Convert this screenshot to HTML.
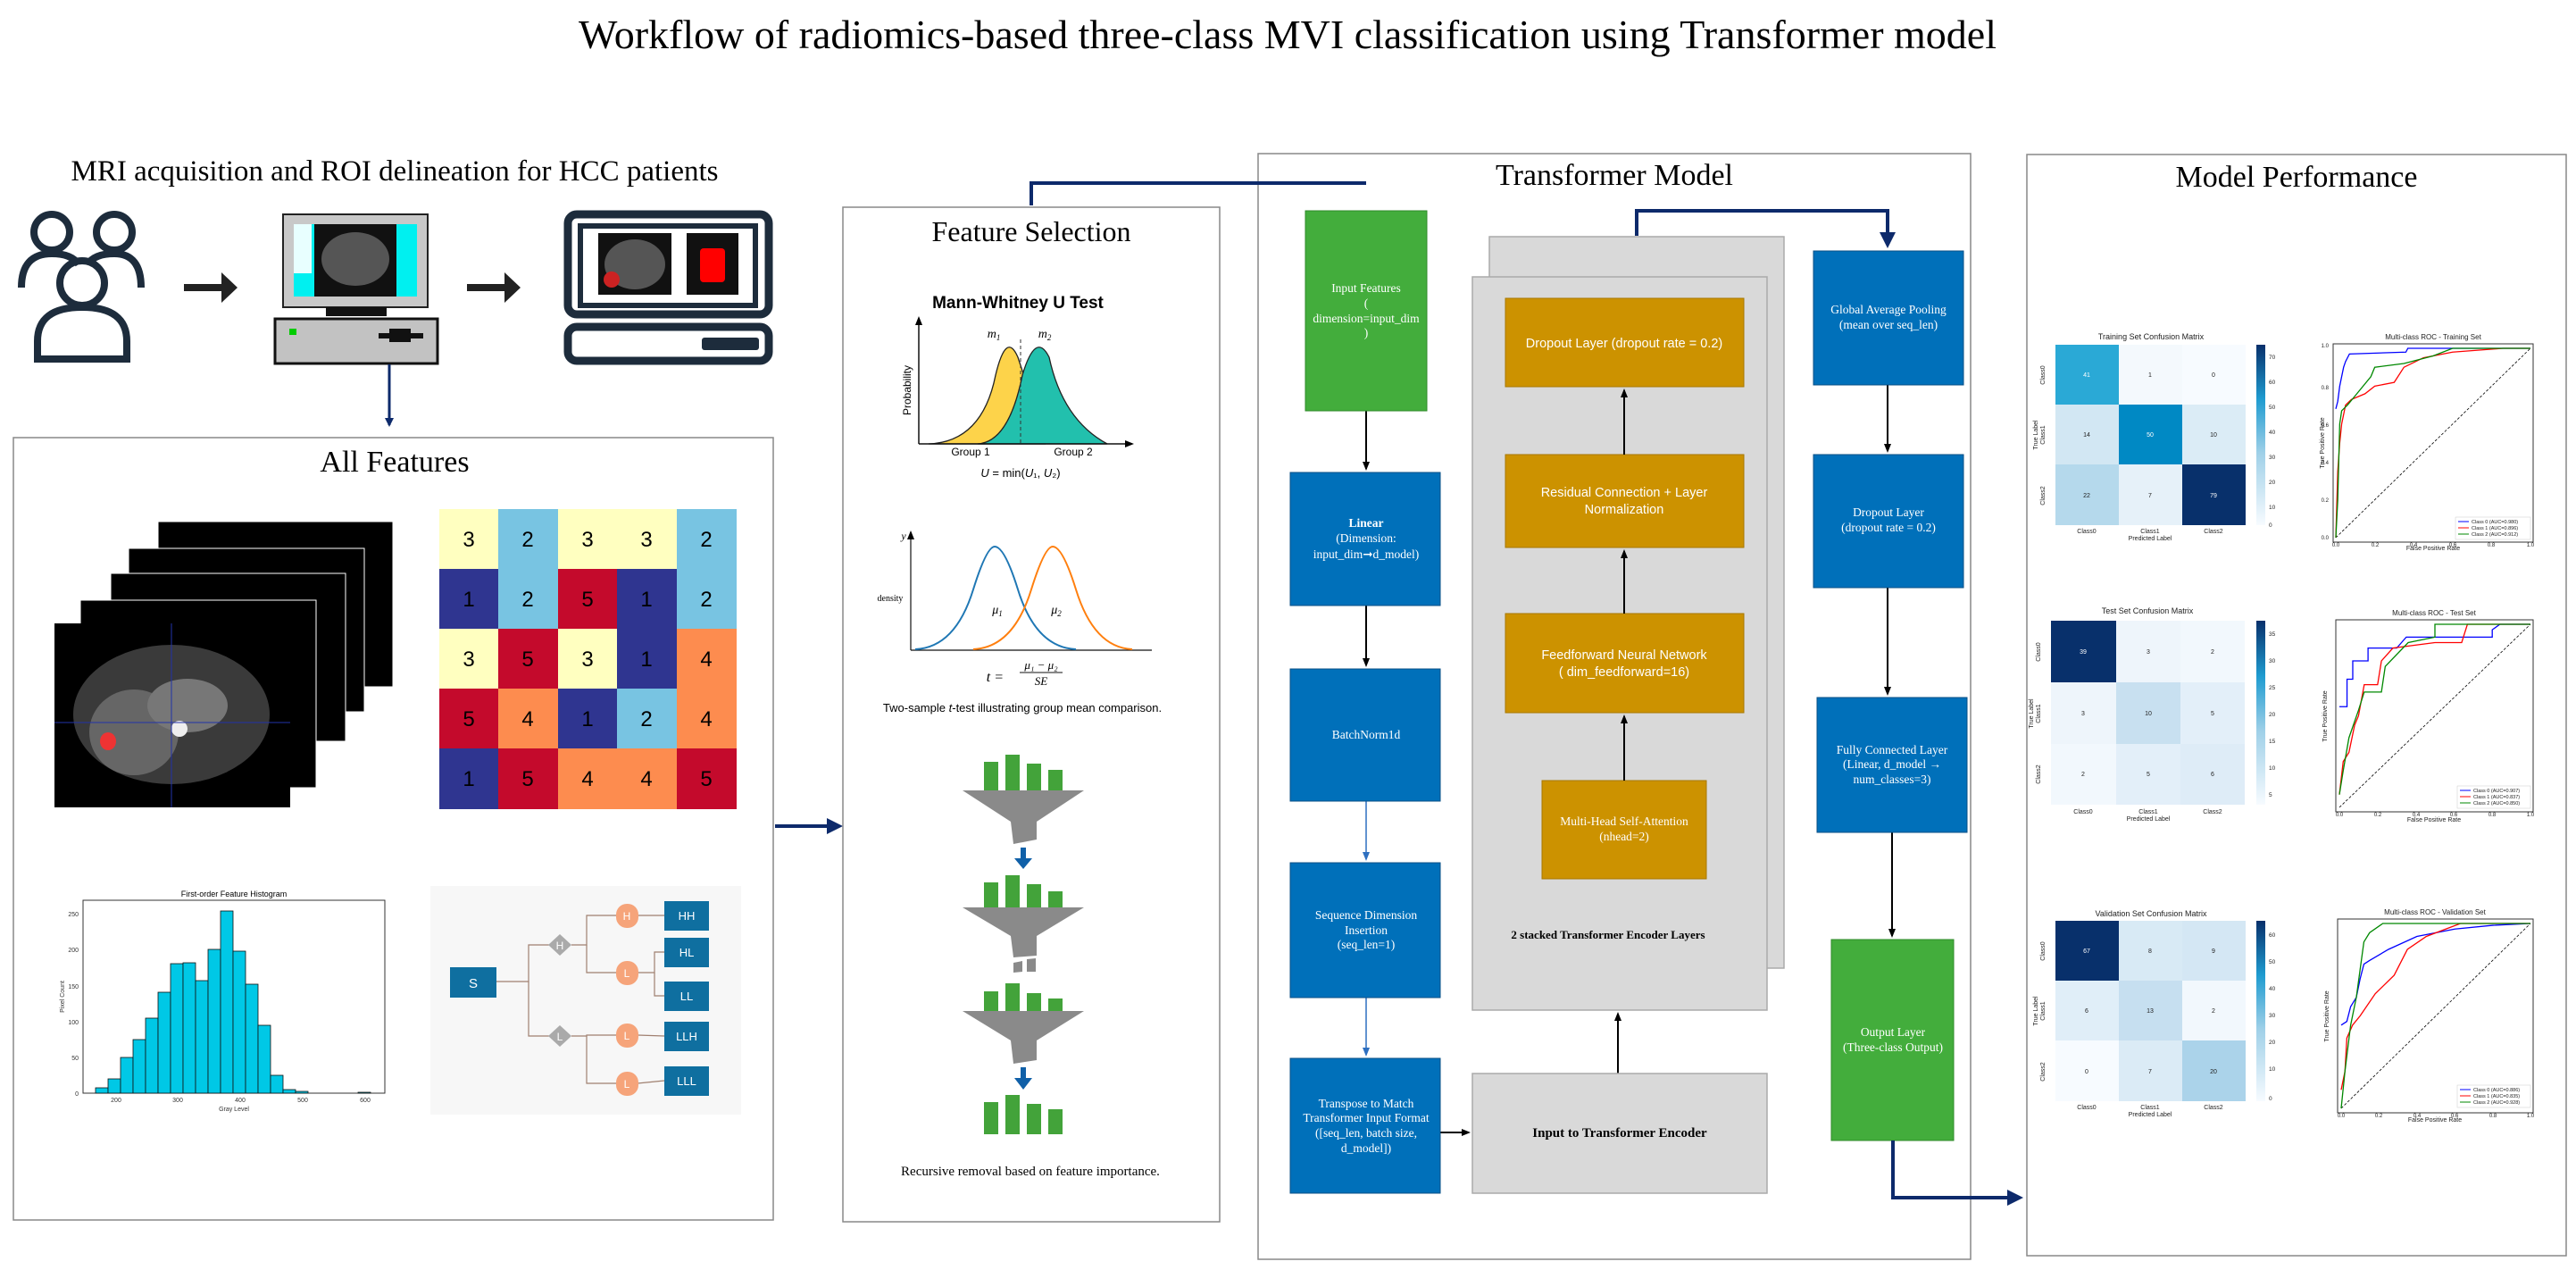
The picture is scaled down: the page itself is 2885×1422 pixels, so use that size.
<!DOCTYPE html>
<html><head><meta charset="utf-8"><style>
html,body{margin:0;padding:0;background:#fff;}
svg{display:block;}
.serif{font-family:"Liberation Serif",serif;}
.sans{font-family:"Liberation Sans",sans-serif;}
</style></head><body>
<svg width="2885" height="1422" viewBox="0 0 2885 1422" xmlns="http://www.w3.org/2000/svg">
<defs>
<marker id="an" markerWidth="10" markerHeight="10" refX="8" refY="5" orient="auto" markerUnits="userSpaceOnUse"><path d="M0,0 L10,5 L0,10 z" fill="#0d2a6b"/></marker>
<marker id="ab" markerWidth="10" markerHeight="10" refX="8" refY="5" orient="auto" markerUnits="userSpaceOnUse"><path d="M0,1 L10,5 L0,9 z" fill="#000"/></marker>
<marker id="al" markerWidth="10" markerHeight="10" refX="8" refY="5" orient="auto" markerUnits="userSpaceOnUse"><path d="M0,1 L10,5 L0,9 z" fill="#2e6fc0"/></marker>
<marker id="anb" markerWidth="18" markerHeight="18" refX="14" refY="9" orient="auto" markerUnits="userSpaceOnUse"><path d="M0,0 L18,9 L0,18 z" fill="#0d2a6b"/></marker>
</defs>
<rect width="2885" height="1422" fill="#fff"/>
<text x="1442" y="54" text-anchor="middle" class="serif" font-size="46">Workflow of radiomics-based three-class MVI classification using Transformer model</text>

<!-- MRI acquisition -->
<text x="442" y="202" text-anchor="middle" class="serif" font-size="33">MRI acquisition and ROI delineation for HCC patients</text>
<g fill="none" stroke="#1d2c3c" stroke-width="8">
<circle cx="58" cy="260" r="20"/><circle cx="128" cy="260" r="20"/>
<path d="M24,322 Q24,284 58,284 Q80,284 88,296"/><path d="M158,322 Q158,284 128,284 Q106,284 98,296"/>
<circle cx="92" cy="317" r="25"/>
<path d="M42,402 L42,382 Q42,344 92,344 Q142,344 142,382 L142,402 Z" />
</g>
<path d="M206,318 L248,318 L248,305 L266,322 L248,339 L248,326 L206,326 Z" fill="#222"/>
<path d="M523,318 L565,318 L565,305 L583,322 L565,339 L565,326 L523,326 Z" fill="#222"/>
<!-- computer -->
<rect x="317" y="240" width="162" height="104" fill="#c8c8c8" stroke="#222" stroke-width="2"/>
<rect x="329" y="251" width="138" height="81" fill="#00f0f0"/>
<rect x="329" y="251" width="20" height="55" fill="#e8ffff"/>
<rect x="352" y="251" width="92" height="81" fill="#111"/>
<ellipse cx="398" cy="290" rx="38" ry="30" fill="#555"/>
<rect x="365" y="344" width="68" height="10" fill="#111"/>
<rect x="308" y="357" width="182" height="50" fill="#c2c2c2" stroke="#111" stroke-width="3"/>
<rect x="324" y="368" width="8" height="7" fill="#0c0"/>
<rect x="424" y="373" width="50" height="6" fill="#111"/><rect x="436" y="368" width="24" height="15" fill="#111"/>
<line x1="436" y1="408" x2="436" y2="476" stroke="#0d2a6b" stroke-width="3" marker-end="url(#an)"/>
<!-- laptop -->
<rect x="636" y="240" width="225" height="112" rx="10" fill="none" stroke="#1d2c3c" stroke-width="9"/>
<rect x="650" y="253" width="196" height="89" fill="none" stroke="#1d2c3c" stroke-width="6"/>
<rect x="670" y="261" width="82" height="69" fill="#111"/><ellipse cx="711" cy="296" rx="34" ry="28" fill="#555"/><circle cx="685" cy="313" r="9" fill="#c22"/>
<rect x="769" y="261" width="58" height="69" fill="#111"/><rect x="784" y="278" width="28" height="38" rx="4" fill="#f00"/>
<rect x="636" y="366" width="225" height="38" rx="10" fill="none" stroke="#1d2c3c" stroke-width="9"/>
<rect x="786" y="378" width="64" height="14" rx="3" fill="#1d2c3c"/>

<!-- All Features -->
<rect x="15" y="490" width="851" height="876" fill="#fff" stroke="#888" stroke-width="1.5"/>
<text x="442" y="528" text-anchor="middle" class="serif" font-size="34">All Features</text>
<g>
<rect x="177" y="584" width="263" height="185" fill="#000" stroke="#fff" stroke-width="1"/>
<rect x="144" y="614" width="264" height="183" fill="#000" stroke="#fff" stroke-width="1"/>
<rect x="124" y="642" width="263" height="188" fill="#000" stroke="#fff" stroke-width="1"/>
<rect x="90" y="672" width="264" height="210" fill="#000" stroke="#fff" stroke-width="1"/>
<rect x="61" y="698" width="264" height="206" fill="#000"/>
<ellipse cx="192" cy="800" rx="110" ry="78" fill="#3a3a3a"/>
<ellipse cx="150" cy="820" rx="50" ry="48" fill="#666"/>
<ellipse cx="210" cy="790" rx="45" ry="30" fill="#777"/>
<circle cx="201" cy="816" r="9" fill="#eee"/>
<ellipse cx="121" cy="830" rx="9" ry="10" fill="#e33"/>
<line x1="192" y1="698" x2="192" y2="904" stroke="#2233aa" stroke-width="1"/>
<line x1="61" y1="809" x2="325" y2="809" stroke="#2233aa" stroke-width="1"/>
</g>
<!-- grid -->
<g class="sans" font-size="24" text-anchor="middle">
<g id="grid"></g>
</g>
<g font-family="Liberation Sans,sans-serif" font-size="24" text-anchor="middle">
<!-- row1 -->
<rect x="492" y="570" width="67" height="68" fill="#ffffc0"/><text x="525" y="612">3</text>
<rect x="558" y="570" width="67" height="68" fill="#78c4e2"/><text x="591" y="612">2</text>
<rect x="625" y="570" width="67" height="68" fill="#ffffc0"/><text x="658" y="612">3</text>
<rect x="691" y="570" width="67" height="68" fill="#ffffc0"/><text x="724" y="612">3</text>
<rect x="758" y="570" width="67" height="68" fill="#78c4e2"/><text x="791" y="612">2</text>
<!-- row2 -->
<rect x="492" y="637" width="67" height="68" fill="#2f3590"/><text x="525" y="679">1</text>
<rect x="558" y="637" width="67" height="68" fill="#78c4e2"/><text x="591" y="679">2</text>
<rect x="625" y="637" width="67" height="68" fill="#c40a2c"/><text x="658" y="679">5</text>
<rect x="691" y="637" width="67" height="68" fill="#2f3590"/><text x="724" y="679">1</text>
<rect x="758" y="637" width="67" height="68" fill="#78c4e2"/><text x="791" y="679">2</text>
<!-- row3 -->
<rect x="492" y="704" width="67" height="68" fill="#ffffc0"/><text x="525" y="746">3</text>
<rect x="558" y="704" width="67" height="68" fill="#c40a2c"/><text x="591" y="746">5</text>
<rect x="625" y="704" width="67" height="68" fill="#ffffc0"/><text x="658" y="746">3</text>
<rect x="691" y="704" width="67" height="68" fill="#2f3590"/><text x="724" y="746">1</text>
<rect x="758" y="704" width="67" height="68" fill="#fd8c4f"/><text x="791" y="746">4</text>
<!-- row4 -->
<rect x="492" y="771" width="67" height="68" fill="#c40a2c"/><text x="525" y="813">5</text>
<rect x="558" y="771" width="67" height="68" fill="#fd8c4f"/><text x="591" y="813">4</text>
<rect x="625" y="771" width="67" height="68" fill="#2f3590"/><text x="658" y="813">1</text>
<rect x="691" y="771" width="67" height="68" fill="#78c4e2"/><text x="724" y="813">2</text>
<rect x="758" y="771" width="67" height="68" fill="#fd8c4f"/><text x="791" y="813">4</text>
<!-- row5 -->
<rect x="492" y="838" width="67" height="68" fill="#2f3590"/><text x="525" y="880">1</text>
<rect x="558" y="838" width="67" height="68" fill="#c40a2c"/><text x="591" y="880">5</text>
<rect x="625" y="838" width="67" height="68" fill="#fd8c4f"/><text x="658" y="880">4</text>
<rect x="691" y="838" width="67" height="68" fill="#fd8c4f"/><text x="724" y="880">4</text>
<rect x="758" y="838" width="67" height="68" fill="#c40a2c"/><text x="791" y="880">5</text>
</g>
<!-- histogram -->
<text x="262" y="1004" text-anchor="middle" class="sans" font-size="9">First-order Feature Histogram</text>
<rect x="93" y="1008" width="338" height="216" fill="#fff" stroke="#333" stroke-width="1"/>
<g fill="#00c8e6" stroke="#111" stroke-width="0.8">
<rect x="107" y="1218" width="14" height="6"/>
<rect x="121" y="1208" width="14" height="16"/>
<rect x="135" y="1184" width="14" height="40"/>
<rect x="149" y="1164" width="14" height="60"/>
<rect x="163" y="1140" width="14" height="84"/>
<rect x="177" y="1111" width="14" height="113"/>
<rect x="191" y="1079" width="14" height="145"/>
<rect x="205" y="1078" width="14" height="146"/>
<rect x="219" y="1098" width="14" height="126"/>
<rect x="233" y="1063" width="14" height="161"/>
<rect x="247" y="1020" width="14" height="204"/>
<rect x="261" y="1065" width="14" height="159"/>
<rect x="275" y="1102" width="14" height="122"/>
<rect x="289" y="1148" width="14" height="76"/>
<rect x="303" y="1204" width="14" height="20"/>
<rect x="317" y="1220" width="14" height="4"/>
<rect x="331" y="1222" width="14" height="2"/>
<rect x="401" y="1223" width="14" height="1"/>
</g>
<g class="sans" font-size="7" fill="#333">
<text x="130" y="1234" text-anchor="middle">200</text><text x="199" y="1234" text-anchor="middle">300</text><text x="269" y="1234" text-anchor="middle">400</text><text x="339" y="1234" text-anchor="middle">500</text><text x="409" y="1234" text-anchor="middle">600</text>
<text x="262" y="1244" text-anchor="middle">Gray Level</text>
<text x="88" y="1227" text-anchor="end">0</text><text x="88" y="1187" text-anchor="end">50</text><text x="88" y="1147" text-anchor="end">100</text><text x="88" y="1107" text-anchor="end">150</text><text x="88" y="1066" text-anchor="end">200</text><text x="88" y="1026" text-anchor="end">250</text>
<text transform="translate(72,1116) rotate(-90)" text-anchor="middle">Pixel Count</text>
</g>
<!-- wavelet tree -->
<rect x="482" y="992" width="348" height="256" fill="#f7f7f7"/>
<g stroke="#a08070" stroke-width="1.2" fill="none">
<path d="M556,1099 L592,1099 L592,1058 L615,1058"/><path d="M592,1099 L592,1160 L615,1160"/>
<path d="M640,1058 L657,1058 L657,1025 L690,1025"/><path d="M657,1058 L657,1089 L690,1089"/>
<path d="M640,1160 L657,1160 L657,1159 L690,1159"/><path d="M657,1160 L657,1213 L690,1213"/>
<path d="M714,1025 L744,1025"/><path d="M714,1089 L733,1089 L733,1066 L744,1066"/><path d="M733,1089 L733,1115 L744,1115"/>
<path d="M714,1159 L744,1160"/><path d="M714,1213 L744,1210"/>
</g>
<rect x="504" y="1083" width="52" height="34" fill="#0f6fa0"/>
<text x="530" y="1106" text-anchor="middle" class="sans" font-size="15" fill="#fff">S</text>
<path d="M627,1046 L640,1058 L627,1070 L614,1058 Z" fill="#aaa"/><text x="627" y="1063" text-anchor="middle" class="sans" font-size="12" fill="#fff">H</text>
<path d="M627,1148 L640,1160 L627,1172 L614,1160 Z" fill="#aaa"/><text x="627" y="1165" text-anchor="middle" class="sans" font-size="12" fill="#fff">L</text>
<g fill="#f6a47a">
<rect x="690" y="1012" width="25" height="27" rx="12"/><rect x="690" y="1076" width="25" height="27" rx="12"/><rect x="690" y="1146" width="25" height="27" rx="12"/><rect x="690" y="1200" width="25" height="27" rx="12"/>
</g>
<g class="sans" font-size="12" fill="#fff" text-anchor="middle">
<text x="702" y="1030">H</text><text x="702" y="1094">L</text><text x="702" y="1164">L</text><text x="702" y="1218">L</text>
</g>
<g fill="#0f6fa0">
<rect x="744" y="1009" width="50" height="33"/><rect x="744" y="1050" width="50" height="33"/><rect x="744" y="1099" width="50" height="33"/><rect x="744" y="1144" width="50" height="33"/><rect x="744" y="1194" width="50" height="33"/>
</g>
<g class="sans" font-size="13" fill="#fff" text-anchor="middle">
<text x="769" y="1030">HH</text><text x="769" y="1071">HL</text><text x="769" y="1120">LL</text><text x="769" y="1165">LLH</text><text x="769" y="1215">LLL</text>
</g>
<line x1="868" y1="925" x2="940" y2="925" stroke="#0d2a6b" stroke-width="4" marker-end="url(#anb)"/>

<!-- Feature Selection -->
<rect x="944" y="232" width="422" height="1136" fill="#fff" stroke="#888" stroke-width="1.5"/>
<text x="1155" y="270" text-anchor="middle" class="serif" font-size="32">Feature Selection</text>
<polyline points="1155,230 1155,205 1530,205 1530,228" fill="none" stroke="#0d2a6b" stroke-width="4" marker-end="url(#anb)"/>
<text x="1140" y="345" text-anchor="middle" class="sans" font-size="19" font-weight="bold">Mann-Whitney U Test</text>
<path d="M1040,497 Q1100,495 1115,420 Q1127,370 1140,400 Q1150,430 1170,497 Z" fill="#fdd34a" stroke="#222" stroke-width="1.3"/>
<path d="M1095,497 Q1130,495 1145,420 Q1160,370 1175,400 Q1190,470 1240,497 Z" fill="#22c0ad" stroke="#222" stroke-width="1.3"/>
<line x1="1143" y1="380" x2="1143" y2="497" stroke="#333" stroke-dasharray="4,3"/>
<line x1="1029" y1="497" x2="1268" y2="497" stroke="#111" stroke-width="1.5" marker-end="url(#ab)"/>
<line x1="1029" y1="497" x2="1029" y2="356" stroke="#111" stroke-width="1.5" marker-end="url(#ab)"/>
<text x="1113" y="378" text-anchor="middle" class="serif" font-size="14" font-style="italic">m<tspan font-size="9" dy="3">1</tspan></text>
<text x="1170" y="378" text-anchor="middle" class="serif" font-size="14" font-style="italic">m<tspan font-size="9" dy="3">2</tspan></text>
<text x="1087" y="510" text-anchor="middle" class="sans" font-size="12">Group 1</text>
<text x="1202" y="510" text-anchor="middle" class="sans" font-size="12">Group 2</text>
<text x="1143" y="534" text-anchor="middle" class="sans" font-size="13"><tspan font-style="italic">U</tspan> = min(<tspan font-style="italic">U</tspan>₁, <tspan font-style="italic">U</tspan>₂)</text>
<text transform="translate(1020,437) rotate(-90)" text-anchor="middle" class="sans" font-size="12">Probability</text>
<!-- t-test -->
<line x1="1020" y1="728" x2="1290" y2="728" stroke="#111" stroke-width="1.2"/>
<line x1="1020" y1="728" x2="1020" y2="596" stroke="#111" stroke-width="1.2" marker-end="url(#ab)"/>
<path d="M1025,727 Q1070,725 1090,660 Q1105,612 1114,612 Q1125,612 1140,660 Q1160,725 1205,727" fill="none" stroke="#1f77b4" stroke-width="2"/>
<path d="M1090,727 Q1135,725 1155,660 Q1170,612 1179,612 Q1190,612 1205,660 Q1225,725 1268,727" fill="none" stroke="#ff7f0e" stroke-width="2"/>
<text x="1117" y="687" text-anchor="middle" class="serif" font-size="14" font-style="italic">μ<tspan font-size="9" dy="3">1</tspan></text>
<text x="1183" y="687" text-anchor="middle" class="serif" font-size="14" font-style="italic">μ<tspan font-size="9" dy="3">2</tspan></text>
<text x="997" y="673" text-anchor="middle" class="serif" font-size="10">density</text>
<text x="1012" y="604" text-anchor="middle" class="serif" font-size="12" font-style="italic">y</text>
<text x="1124" y="763" text-anchor="end" class="serif" font-size="16" font-style="italic">t =</text>
<text x="1166" y="749" text-anchor="middle" class="serif" font-size="13" font-style="italic">μ₁ − μ₂</text>
<line x1="1142" y1="753" x2="1190" y2="753" stroke="#111"/>
<text x="1166" y="767" text-anchor="middle" class="serif" font-size="13" font-style="italic">SE</text>
<text x="1145" y="797" text-anchor="middle" class="sans" font-size="13">Two-sample <tspan font-style="italic">t</tspan>-test illustrating group mean comparison.</text>
<!-- funnels -->
<g fill="#43a33a">
<rect x="1102" y="853" width="16" height="32"/><rect x="1126" y="845" width="16" height="40"/><rect x="1150" y="855" width="16" height="30"/><rect x="1174" y="862" width="16" height="23"/>
<rect x="1102" y="988" width="16" height="28"/><rect x="1126" y="980" width="16" height="36"/><rect x="1150" y="990" width="16" height="26"/><rect x="1174" y="998" width="16" height="18"/>
<rect x="1102" y="1110" width="16" height="22"/><rect x="1126" y="1101" width="16" height="31"/><rect x="1150" y="1112" width="16" height="20"/><rect x="1174" y="1118" width="16" height="14"/>
<rect x="1102" y="1234" width="16" height="36"/><rect x="1126" y="1226" width="16" height="44"/><rect x="1150" y="1236" width="16" height="34"/><rect x="1174" y="1242" width="16" height="28"/>
</g>
<g fill="#8a8a8a">
<path d="M1078,885 L1214,885 L1161,920 L1161,940 L1135,945 L1132,920 Z"/>
<path d="M1078,1016 L1214,1016 L1161,1048 L1161,1070 L1135,1072 L1132,1048 Z"/>
<path d="M1135,1078 L1145,1076 L1145,1088 L1135,1089 Z"/><path d="M1150,1074 L1160,1073 L1160,1088 L1150,1088 Z"/>
<path d="M1078,1132 L1214,1132 L1161,1165 L1161,1187 L1135,1191 L1132,1165 Z"/>
</g>
<g fill="#1060a8">
<rect x="1143" y="949" width="6" height="14"/><path d="M1136,961 L1156,961 L1146,973 Z"/>
<rect x="1143" y="1195" width="6" height="14"/><path d="M1136,1207 L1156,1207 L1146,1220 Z"/>
</g>
<text x="1154" y="1316" text-anchor="middle" class="serif" font-size="15">Recursive removal based on feature importance.</text>

<!-- Transformer Model -->
<rect x="1409" y="172" width="798" height="1238" fill="#fff" stroke="#888" stroke-width="1.5"/>
<text x="1808" y="207" text-anchor="middle" class="serif" font-size="34">Transformer Model</text>
<polyline points="1366,205 1530,205" fill="none" stroke="#0d2a6b" stroke-width="4"/>
<rect x="1668" y="265" width="330" height="819" fill="#d9d9d9" stroke="#aaa" stroke-width="1.5"/>
<rect x="1649" y="310" width="330" height="821" fill="#d9d9d9" stroke="#aaa" stroke-width="1.5"/>
<polyline points="1833,264 1833,236 2114,236 2114,274" fill="none" stroke="#0d2a6b" stroke-width="4" marker-end="url(#anb)"/>
<g fill="#cc9200" stroke="#a87800" stroke-width="1">
<rect x="1686" y="334" width="267" height="99"/>
<rect x="1686" y="509" width="267" height="104"/>
<rect x="1686" y="687" width="267" height="111"/>
<rect x="1727" y="874" width="184" height="110"/>
</g>
<g class="sans" font-size="14.5" fill="#fff" text-anchor="middle">
<text x="1819" y="389">Dropout Layer (dropout rate = 0.2)</text>
<text x="1819" y="556">Residual Connection + Layer</text><text x="1819" y="575">Normalization</text>
<text x="1819" y="738">Feedforward Neural Network</text><text x="1819" y="757">( dim_feedforward=16)</text>
</g>
<g class="serif" font-size="13.5" fill="#fff" text-anchor="middle">
<text x="1819" y="924">Multi-Head Self-Attention</text><text x="1819" y="941">(nhead=2)</text>
</g>
<g stroke="#000" stroke-width="2" marker-end="url(#ab)">
<line x1="1819" y1="874" x2="1819" y2="802"/>
<line x1="1819" y1="687" x2="1819" y2="617"/>
<line x1="1819" y1="509" x2="1819" y2="437"/>
<line x1="1812" y1="1202" x2="1812" y2="1135"/>
<line x1="1613" y1="1268" x2="1645" y2="1268"/>
<line x1="1530" y1="460" x2="1530" y2="525"/>
<line x1="1530" y1="678" x2="1530" y2="745"/>
<line x1="2114" y1="431" x2="2114" y2="505"/>
<line x1="2114" y1="658" x2="2114" y2="777"/>
<line x1="2119" y1="932" x2="2119" y2="1048"/>
</g>
<g stroke="#2e6fc0" stroke-width="1.5" marker-end="url(#al)">
<line x1="1530" y1="897" x2="1530" y2="962"/>
<line x1="1530" y1="1117" x2="1530" y2="1181"/>
</g>
<text x="1801" y="1051" text-anchor="middle" class="serif" font-size="13" font-weight="bold">2 stacked Transformer Encoder Layers</text>
<rect x="1649" y="1202" width="330" height="134" fill="#d9d9d9" stroke="#aaa" stroke-width="1.5"/>
<text x="1814" y="1273" text-anchor="middle" class="serif" font-size="15" font-weight="bold">Input to Transformer Encoder</text>
<!-- left column -->
<rect x="1462" y="236" width="136" height="224" fill="#43ad3c" stroke="#2f8a2a"/>
<g class="serif" font-size="13.5" fill="#fff" text-anchor="middle">
<text x="1530" y="327">Input Features</text><text x="1530" y="344">(</text><text x="1530" y="361">dimension=input_dim</text><text x="1530" y="377">)</text>
</g>
<g fill="#0070ba" stroke="#0a4f86">
<rect x="1445" y="529" width="168" height="149"/>
<rect x="1445" y="749" width="168" height="148"/>
<rect x="1445" y="966" width="168" height="151"/>
<rect x="1445" y="1185" width="168" height="151"/>
<rect x="2031" y="281" width="168" height="150"/>
<rect x="2031" y="509" width="168" height="149"/>
<rect x="2035" y="781" width="168" height="151"/>
</g>
<g class="serif" font-size="13.5" fill="#fff" text-anchor="middle">
<text x="1530" y="590" font-weight="bold">Linear</text><text x="1530" y="607">(Dimension:</text><text x="1530" y="625">input_dim➞d_model)</text>
<text x="1530" y="827">BatchNorm1d</text>
<text x="1530" y="1029">Sequence Dimension</text><text x="1530" y="1046">Insertion</text><text x="1530" y="1062">(seq_len=1)</text>
<text x="1530" y="1240">Transpose to Match</text><text x="1530" y="1256">Transformer Input Format</text><text x="1530" y="1273">([seq_len, batch size,</text><text x="1530" y="1290">d_model])</text>
<text x="2115" y="351">Global Average Pooling</text><text x="2115" y="368">(mean over seq_len)</text>
<text x="2115" y="578">Dropout Layer</text><text x="2115" y="595">(dropout rate = 0.2)</text>
<text x="2119" y="844">Fully Connected Layer</text><text x="2119" y="860">(Linear, d_model →</text><text x="2119" y="877">num_classes=3)</text>
</g>
<rect x="2051" y="1052" width="137" height="225" fill="#43ad3c" stroke="#2f8a2a"/>
<g class="serif" font-size="13.5" fill="#fff" text-anchor="middle">
<text x="2120" y="1160">Output Layer</text><text x="2120" y="1177">(Three-class Output)</text>
</g>
<polyline points="2120,1277 2120,1341 2262,1341" fill="none" stroke="#0d2a6b" stroke-width="4" marker-end="url(#anb)"/>

<!-- Model Performance -->
<rect x="2270" y="173" width="604" height="1233" fill="#fff" stroke="#888" stroke-width="1.5"/>
<text x="2572" y="209" text-anchor="middle" class="serif" font-size="34">Model Performance</text>
<g class="sans" fill="#222">
<!-- training CM -->
<text x="2409" y="380" text-anchor="middle" font-size="9">Training Set Confusion Matrix</text>
<rect x="2302" y="386" width="71" height="67" fill="#2aa9d6"/><rect x="2373" y="386" width="71" height="67" fill="#f4f9fd"/><rect x="2444" y="386" width="71" height="67" fill="#f7fbff"/>
<rect x="2302" y="453" width="71" height="67" fill="#d2e7f3"/><rect x="2373" y="453" width="71" height="67" fill="#0089c4"/><rect x="2444" y="453" width="71" height="67" fill="#dbecf6"/>
<rect x="2302" y="520" width="71" height="68" fill="#b5d9ec"/><rect x="2373" y="520" width="71" height="68" fill="#e6f1f9"/><rect x="2444" y="520" width="71" height="68" fill="#08306b"/>
<g font-size="7" text-anchor="middle"><text x="2337" y="422" fill="#fff">41</text><text x="2408" y="422">1</text><text x="2479" y="422">0</text><text x="2337" y="489">14</text><text x="2408" y="489" fill="#fff">50</text><text x="2479" y="489">10</text><text x="2337" y="557">22</text><text x="2408" y="557">7</text><text x="2479" y="557" fill="#fff">79</text>
<text x="2337" y="597">Class0</text><text x="2408" y="597">Class1</text><text x="2479" y="597">Class2</text><text x="2408" y="605">Predicted Label</text></g>
<!-- test CM -->
<text x="2405" y="687" text-anchor="middle" font-size="9">Test Set Confusion Matrix</text>
<rect x="2297" y="695" width="73" height="69" fill="#08306b"/><rect x="2370" y="695" width="72" height="69" fill="#eef5fb"/><rect x="2442" y="695" width="72" height="69" fill="#f2f8fd"/>
<rect x="2297" y="764" width="73" height="69" fill="#eef5fb"/><rect x="2370" y="764" width="72" height="69" fill="#c8e0f0"/><rect x="2442" y="764" width="72" height="69" fill="#e3eff9"/>
<rect x="2297" y="833" width="73" height="68" fill="#f2f8fd"/><rect x="2370" y="833" width="72" height="68" fill="#e3eff9"/><rect x="2442" y="833" width="72" height="68" fill="#deecf7"/>
<g font-size="7" text-anchor="middle"><text x="2333" y="732" fill="#fff">39</text><text x="2406" y="732">3</text><text x="2478" y="732">2</text><text x="2333" y="801">3</text><text x="2406" y="801">10</text><text x="2478" y="801">5</text><text x="2333" y="869">2</text><text x="2406" y="869">5</text><text x="2478" y="869">6</text>
<text x="2333" y="911">Class0</text><text x="2406" y="911">Class1</text><text x="2478" y="911">Class2</text><text x="2406" y="919">Predicted Label</text></g>
<!-- val CM -->
<text x="2409" y="1026" text-anchor="middle" font-size="9">Validation Set Confusion Matrix</text>
<rect x="2302" y="1031" width="71" height="67" fill="#08306b"/><rect x="2373" y="1031" width="71" height="67" fill="#d8eaf5"/><rect x="2444" y="1031" width="71" height="67" fill="#d4e7f4"/>
<rect x="2302" y="1098" width="71" height="67" fill="#e0eef8"/><rect x="2373" y="1098" width="71" height="67" fill="#c6dff0"/><rect x="2444" y="1098" width="71" height="67" fill="#f2f8fd"/>
<rect x="2302" y="1165" width="71" height="68" fill="#f7fbff"/><rect x="2373" y="1165" width="71" height="68" fill="#dbebf6"/><rect x="2444" y="1165" width="71" height="68" fill="#abd3ea"/>
<g font-size="7" text-anchor="middle"><text x="2337" y="1067" fill="#fff">67</text><text x="2408" y="1067">8</text><text x="2479" y="1067">9</text><text x="2337" y="1134">6</text><text x="2408" y="1134">13</text><text x="2479" y="1134">2</text><text x="2337" y="1202">0</text><text x="2408" y="1202">7</text><text x="2479" y="1202">20</text>
<text x="2337" y="1242">Class0</text><text x="2408" y="1242">Class1</text><text x="2479" y="1242">Class2</text><text x="2408" y="1250">Predicted Label</text></g>
<g font-size="7"><text transform="translate(2290,420) rotate(-90)" text-anchor="middle">Class0</text><text transform="translate(2290,487) rotate(-90)" text-anchor="middle">Class1</text><text transform="translate(2290,555) rotate(-90)" text-anchor="middle">Class2</text><text transform="translate(2282,487) rotate(-90)" text-anchor="middle">True Label</text>
<text transform="translate(2285,730) rotate(-90)" text-anchor="middle">Class0</text><text transform="translate(2285,799) rotate(-90)" text-anchor="middle">Class1</text><text transform="translate(2285,867) rotate(-90)" text-anchor="middle">Class2</text><text transform="translate(2277,799) rotate(-90)" text-anchor="middle">True Label</text>
<text transform="translate(2290,1065) rotate(-90)" text-anchor="middle">Class0</text><text transform="translate(2290,1132) rotate(-90)" text-anchor="middle">Class1</text><text transform="translate(2290,1200) rotate(-90)" text-anchor="middle">Class2</text><text transform="translate(2282,1132) rotate(-90)" text-anchor="middle">True Label</text></g>
</g>
<defs><linearGradient id="cb" x1="0" y1="1" x2="0" y2="0"><stop offset="0" stop-color="#f7fbff"/><stop offset="0.4" stop-color="#9fd0e8"/><stop offset="0.7" stop-color="#1e9bd0"/><stop offset="1" stop-color="#08306b"/></linearGradient></defs>
<rect x="2527" y="386" width="10" height="202" fill="url(#cb)"/>
<rect x="2527" y="695" width="10" height="206" fill="url(#cb)"/>
<rect x="2527" y="1031" width="10" height="202" fill="url(#cb)"/>
<g class="sans" font-size="6.5" fill="#222">
<text x="2541" y="402">70</text><text x="2541" y="430">60</text><text x="2541" y="458">50</text><text x="2541" y="486">40</text><text x="2541" y="514">30</text><text x="2541" y="542">20</text><text x="2541" y="570">10</text><text x="2541" y="590">0</text>
<text x="2541" y="712">35</text><text x="2541" y="742">30</text><text x="2541" y="772">25</text><text x="2541" y="802">20</text><text x="2541" y="832">15</text><text x="2541" y="862">10</text><text x="2541" y="892">5</text>
<text x="2541" y="1049">60</text><text x="2541" y="1079">50</text><text x="2541" y="1109">40</text><text x="2541" y="1139">30</text><text x="2541" y="1169">20</text><text x="2541" y="1199">10</text><text x="2541" y="1232">0</text>
</g>
<!-- ROC plots -->
<g class="sans" font-size="8" fill="#222" text-anchor="middle">
<text x="2725" y="380">Multi-class ROC - Training Set</text>
<text x="2726" y="689">Multi-class ROC - Test Set</text>
<text x="2727" y="1024">Multi-class ROC - Validation Set</text>
<text x="2725" y="616" font-size="7">False Positive Rate</text>
<text x="2726" y="920" font-size="7">False Positive Rate</text>
<text x="2727" y="1256" font-size="7">False Positive Rate</text>
<text transform="translate(2603,496) rotate(-90)" font-size="7">True Positive Rate</text>
<text transform="translate(2606,802) rotate(-90)" font-size="7">True Positive Rate</text>
<text transform="translate(2608,1138) rotate(-90)" font-size="7">True Positive Rate</text>
</g>
<rect x="2613" y="385" width="224" height="222" fill="none" stroke="#333" stroke-width="1"/>
<rect x="2616" y="694" width="221" height="215" fill="none" stroke="#333" stroke-width="1"/>
<rect x="2618" y="1029" width="219" height="217" fill="none" stroke="#333" stroke-width="1"/>
<g transform="translate(2616,602) scale(218,-212)" fill="none" stroke-width="1.3">
<line x1="0" y1="0" x2="1" y2="1" stroke="#000" stroke-dasharray="3,2" vector-effect="non-scaling-stroke" stroke-width="0.8"/>
<polyline vector-effect="non-scaling-stroke" stroke="#00f" points="0,0.68 0.01,0.72 0.02,0.8 0.03,0.85 0.04,0.9 0.05,0.93 0.07,0.97 0.36,0.98 0.37,1 1,1"/>
<polyline vector-effect="non-scaling-stroke" stroke="#f00" points="0,0 0.01,0.35 0.02,0.5 0.03,0.6 0.05,0.7 0.08,0.73 0.15,0.76 0.2,0.8 0.3,0.82 0.35,0.9 0.45,0.95 0.6,0.98 0.86,1 1,1"/>
<polyline vector-effect="non-scaling-stroke" stroke="#080" points="0,0 0.01,0.2 0.02,0.6 0.03,0.67 0.06,0.7 0.1,0.75 0.18,0.85 0.2,0.9 0.35,0.92 0.5,0.96 0.6,1 1,1"/>
</g>
<g transform="translate(2620,904) scale(214,-205)" fill="none" stroke-width="1.3">
<line x1="0" y1="0" x2="1" y2="1" stroke="#000" stroke-dasharray="3,2" vector-effect="non-scaling-stroke" stroke-width="0.8"/>
<polyline vector-effect="non-scaling-stroke" stroke="#00f" points="0,0.55 0.04,0.55 0.04,0.7 0.07,0.7 0.07,0.8 0.15,0.8 0.15,0.87 0.3,0.87 0.35,0.93 0.8,0.93 0.8,0.97 0.84,1 1,1"/>
<polyline vector-effect="non-scaling-stroke" stroke="#f00" points="0,0.07 0.02,0.25 0.05,0.3 0.08,0.45 0.1,0.5 0.13,0.67 0.2,0.67 0.22,0.8 0.28,0.87 0.5,0.9 0.64,0.9 0.67,1 1,1"/>
<polyline vector-effect="non-scaling-stroke" stroke="#080" points="0,0.07 0.02,0.2 0.05,0.38 0.1,0.53 0.13,0.63 0.22,0.63 0.24,0.77 0.36,0.9 0.5,0.93 0.5,1 1,1"/>
</g>
<g transform="translate(2622,1241) scale(212,-207)" fill="none" stroke-width="1.3">
<line x1="0" y1="0" x2="1" y2="1" stroke="#000" stroke-dasharray="3,2" vector-effect="non-scaling-stroke" stroke-width="0.8"/>
<polyline vector-effect="non-scaling-stroke" stroke="#00f" points="0,0.45 0.03,0.47 0.05,0.55 0.08,0.6 0.1,0.7 0.12,0.78 0.15,0.8 0.25,0.86 0.4,0.93 0.6,0.97 0.8,0.99 1,1"/>
<polyline vector-effect="non-scaling-stroke" stroke="#f00" points="0,0.1 0.02,0.2 0.03,0.38 0.06,0.45 0.1,0.5 0.18,0.62 0.28,0.72 0.35,0.86 0.45,0.93 0.63,1 1,1"/>
<polyline vector-effect="non-scaling-stroke" stroke="#080" points="0,0 0.02,0.2 0.05,0.45 0.08,0.6 0.1,0.75 0.12,0.9 0.15,0.95 0.22,1 1,1"/>
</g>
<g class="sans" font-size="5.5" fill="#222">
<rect x="2750" y="579" width="84" height="25" fill="#fff" stroke="#ccc" stroke-width="0.5"/>
<line x1="2753" y1="584" x2="2765" y2="584" stroke="#00f"/><text x="2768" y="586">Class 0 (AUC=0.980)</text>
<line x1="2753" y1="591" x2="2765" y2="591" stroke="#f00"/><text x="2768" y="593">Class 1 (AUC=0.896)</text>
<line x1="2753" y1="598" x2="2765" y2="598" stroke="#080"/><text x="2768" y="600">Class 2 (AUC=0.912)</text>
<rect x="2752" y="880" width="82" height="25" fill="#fff" stroke="#ccc" stroke-width="0.5"/>
<line x1="2755" y1="885" x2="2767" y2="885" stroke="#00f"/><text x="2770" y="887">Class 0 (AUC=0.907)</text>
<line x1="2755" y1="892" x2="2767" y2="892" stroke="#f00"/><text x="2770" y="894">Class 1 (AUC=0.837)</text>
<line x1="2755" y1="899" x2="2767" y2="899" stroke="#080"/><text x="2770" y="901">Class 2 (AUC=0.850)</text>
<rect x="2752" y="1215" width="82" height="25" fill="#fff" stroke="#ccc" stroke-width="0.5"/>
<line x1="2755" y1="1220" x2="2767" y2="1220" stroke="#00f"/><text x="2770" y="1222">Class 0 (AUC=0.886)</text>
<line x1="2755" y1="1227" x2="2767" y2="1227" stroke="#f00"/><text x="2770" y="1229">Class 1 (AUC=0.835)</text>
<line x1="2755" y1="1234" x2="2767" y2="1234" stroke="#080"/><text x="2770" y="1236">Class 2 (AUC=0.928)</text>
</g>
<g class="sans" font-size="6" fill="#222">
<text x="2608" y="389" text-anchor="end">1.0</text><text x="2608" y="436" text-anchor="end">0.8</text><text x="2608" y="478" text-anchor="end">0.6</text><text x="2608" y="520" text-anchor="end">0.4</text><text x="2608" y="562" text-anchor="end">0.2</text><text x="2608" y="604" text-anchor="end">0.0</text>
<text x="2616" y="612" text-anchor="middle">0.0</text><text x="2660" y="612" text-anchor="middle">0.2</text><text x="2703" y="612" text-anchor="middle">0.4</text><text x="2747" y="612" text-anchor="middle">0.6</text><text x="2790" y="612" text-anchor="middle">0.8</text><text x="2834" y="612" text-anchor="middle">1.0</text>
<text x="2620" y="914" text-anchor="middle">0.0</text><text x="2663" y="914" text-anchor="middle">0.2</text><text x="2706" y="914" text-anchor="middle">0.4</text><text x="2748" y="914" text-anchor="middle">0.6</text><text x="2791" y="914" text-anchor="middle">0.8</text><text x="2834" y="914" text-anchor="middle">1.0</text>
<text x="2622" y="1251" text-anchor="middle">0.0</text><text x="2664" y="1251" text-anchor="middle">0.2</text><text x="2707" y="1251" text-anchor="middle">0.4</text><text x="2749" y="1251" text-anchor="middle">0.6</text><text x="2792" y="1251" text-anchor="middle">0.8</text><text x="2834" y="1251" text-anchor="middle">1.0</text>
</g>
</svg>
</body></html>
